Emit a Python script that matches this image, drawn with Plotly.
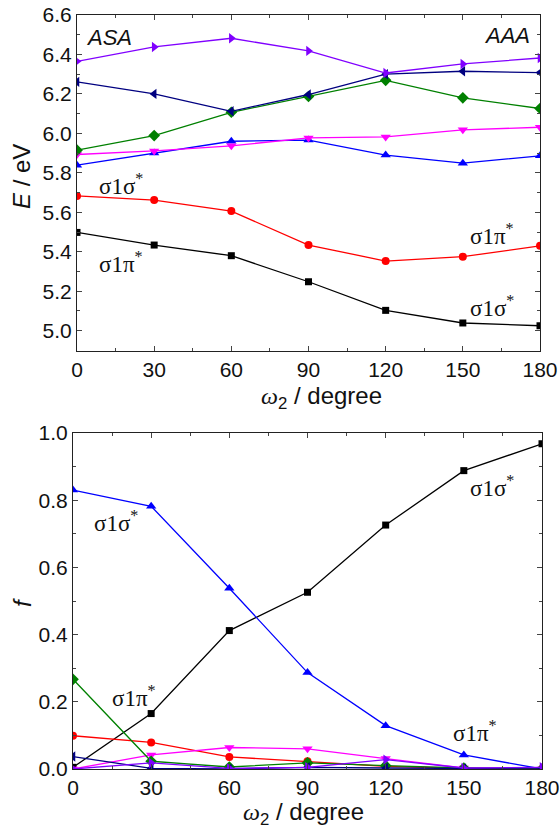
import plotly.graph_objects as go

W, H = 560, 831

omega = [0, 30, 60, 90, 120, 150, 180]

# Top panel: excitation energies E / eV
E_black = [5.498, 5.434, 5.380, 5.248, 5.103, 5.039, 5.025]
E_red = [5.683, 5.662, 5.606, 5.434, 5.353, 5.375, 5.430]
E_blue = [5.839, 5.901, 5.960, 5.966, 5.890, 5.849, 5.886]
E_magenta = [5.893, 5.911, 5.937, 5.977, 5.982, 6.018, 6.031]
E_green = [5.915, 5.989, 6.107, 6.187, 6.269, 6.180, 6.126]
E_navy = [6.261, 6.200, 6.112, 6.197, 6.300, 6.315, 6.308]
E_violet = [6.365, 6.438, 6.482, 6.418, 6.306, 6.352, 6.382]

# Bottom panel: oscillator strengths f
f_black = [0.005, 0.165, 0.412, 0.526, 0.726, 0.888, 0.968]
f_red = [0.099, 0.079, 0.036, 0.023, 0.008, 0.002, 0.0]
f_blue = [0.830, 0.782, 0.538, 0.287, 0.129, 0.042, 0.0]
f_magenta = [0.0, 0.042, 0.064, 0.060, 0.031, 0.003, 0.0]
f_green = [0.267, 0.023, 0.006, 0.018, 0.010, 0.003, 0.0]
f_navy = [0.037, 0.002, 0.0, 0.005, 0.003, 0.002, 0.0]
f_violet = [0.0, 0.018, 0.002, 0.005, 0.028, 0.003, 0.005]

x_ticks = [0, 30, 60, 90, 120, 150, 180]

styles = [
    ("#000000", "square", 7),
    ("#FF0000", "circle", 8),
    ("#0000FF", "triangle-up", 9),
    ("#FF00FF", "triangle-down", 9),
    ("#008000", "diamond", 9),
    ("#000080", "triangle-left", 9),
    ("#8000FF", "triangle-right", 9),
]

top_series = [E_black, E_red, E_blue, E_magenta, E_green, E_navy, E_violet]
bot_series = [f_black, f_red, f_blue, f_magenta, f_green, f_navy, f_violet]

fig = go.Figure()
for ys, (c, s, sz) in zip(top_series, styles):
    fig.add_trace(go.Scatter(x=omega, y=ys, mode="lines+markers", xaxis="x", yaxis="y",
                             line=dict(color=c, width=1.3),
                             marker=dict(symbol=s, size=sz, color=c), showlegend=False))
for ys, (c, s, sz) in zip(bot_series, styles):
    fig.add_trace(go.Scatter(x=omega, y=ys, mode="lines+markers", xaxis="x2", yaxis="y2",
                             line=dict(color=c, width=1.3),
                             marker=dict(symbol=s, size=sz, color=c), showlegend=False))

tickfont = dict(family="Liberation Sans, Arial, sans-serif", size=21, color="#111111")

def xax(domain, anchor):
    return dict(domain=domain, anchor=anchor, range=[0, 180], tickmode="array",
                tickvals=x_ticks, ticks="inside", ticklen=5, tickwidth=1,
                minor=dict(dtick=15, tick0=0, ticks="inside", ticklen=3, tickwidth=1),
                showline=True, linecolor="#222222", linewidth=1, mirror="allticks",
                showgrid=False, zeroline=False, tickfont=tickfont, automargin=False)

def yax(domain, anchor, rng, dtick, fmt):
    return dict(domain=domain, anchor=anchor, range=rng, tick0=0, dtick=dtick, tickformat=fmt,
                ticks="inside", ticklen=5, tickwidth=1,
                minor=dict(dtick=dtick / 2, tick0=0, ticks="inside", ticklen=3, tickwidth=1),
                showline=True, linecolor="#222222", linewidth=1, mirror="allticks",
                showgrid=False, zeroline=False, tickfont=tickfont, automargin=False)

def px_x(p):
    return p / W

def px_y(p):
    return (H - p) / H

fig.update_layout(
    width=W, height=H, margin=dict(l=0, r=0, t=0, b=0),
    paper_bgcolor="white", plot_bgcolor="white",
    xaxis=xax([px_x(77), px_x(540)], "y"),
    yaxis=yax([px_y(351), px_y(15)], "x", [4.897, 6.6], 0.2, ".1f"),
    xaxis2=xax([px_x(73), px_x(542)], "y2"),
    yaxis2=yax([px_y(769), px_y(433)], "x2", [0, 1.0], 0.2, ".1f"),
)

sans = "Liberation Sans, Arial, sans-serif"
serif = "Liberation Serif, Times New Roman, serif"

annots = []
def ann(text, x, y, size, family, angle=0):
    annots.append(dict(text=text, x=px_x(x), y=px_y(y), xref="paper", yref="paper",
                       showarrow=False, xanchor="center", yanchor="middle",
                       textangle=angle, font=dict(family=family, size=size, color="#111111")))

# panel labels
ann("<i>ASA</i>", 109, 37, 22, sans)
ann("<i>AAA</i>", 507, 36, 22, sans)

sig_s = "σ1σ<sup>*</sup>"
sig_p = "σ1π<sup>*</sup>"
# top state labels
ann(sig_s, 121, 185, 23, serif)
ann(sig_p, 121, 262, 23, serif)
ann(sig_p, 492, 234, 23, serif)
ann(sig_s, 492, 306, 23, serif)
# bottom state labels
ann(sig_s, 116, 521, 23, serif)
ann(sig_s, 492, 487, 23, serif)
ann(sig_p, 134, 696, 23, serif)
ann(sig_p, 475, 731, 23, serif)

# axis titles
xtitle = '<span style="font-family:Liberation Serif"><i>ω</i></span><sub>2</sub> / degree'
ann(xtitle, 321, 397, 24, sans)
ann(xtitle, 303, 813, 24, sans)
ann("<i>E</i> / eV", 21, 177, 24, sans, -90)
ann("<i>f</i>", 22, 603, 24, sans, -90)

fig.update_layout(annotations=annots)

fig.write_html("out.html")
